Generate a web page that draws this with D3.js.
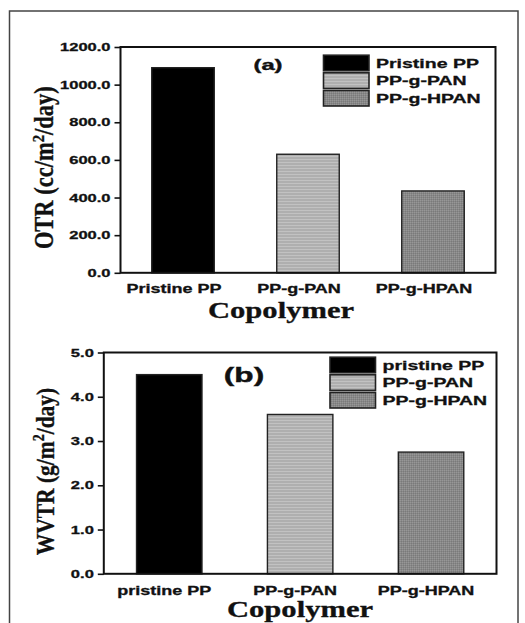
<!DOCTYPE html>
<html>
<head>
<meta charset="utf-8">
<script src="https://cdn.jsdelivr.net/npm/d3@7"></script>
<style>
  html, body { margin: 0; padding: 0; background: #fff; }
  svg { display: block; }
</style>
</head>
<body>
<div id="chart"></div>
<script>
// Oxygen and water-vapour transmission rates of the three films
const categoriesOTR = ["Pristine PP", "PP-g-PAN", "PP-g-HPAN"];
const otrValues = [1090, 630, 435];
const otrTicks = [0, 200, 400, 600, 800, 1000, 1200];

const categoriesWVTR = ["pristine PP", "PP-g-PAN", "PP-g-HPAN"];
const wvtrValues = [4.5, 3.6, 2.75];
const wvtrTicks = [0, 1, 2, 3, 4, 5];

const legendOTR = ["Pristine PP", "PP-g-PAN", "PP-g-HPAN"];
const legendWVTR = ["pristine PP", "PP-g-PAN", "PP-g-HPAN"];

const W = 525, H = 623;
const SANS = "'Liberation Sans', Arial, sans-serif";
const SERIF = "'Liberation Serif', 'Times New Roman', serif";
const SX = 1.5; // horizontal widening of the bold sans labels

const svg = d3.select("#chart").append("svg")
  .attr("width", W).attr("height", H);

svg.append("rect").attr("width", W).attr("height", H).attr("fill", "#fff");

// fills: solid black, light striped grey, darker textured grey
const defs = svg.append("defs");
const pLight = defs.append("pattern").attr("id", "fillPAN")
  .attr("patternUnits", "userSpaceOnUse").attr("width", 4).attr("height", 3);
pLight.append("rect").attr("width", 4).attr("height", 3).attr("fill", "#afafaf");
pLight.append("rect").attr("y", 0).attr("width", 4).attr("height", 1).attr("fill", "#c2c2c2");

const pDark = defs.append("pattern").attr("id", "fillHPAN")
  .attr("patternUnits", "userSpaceOnUse").attr("width", 2).attr("height", 2);
pDark.append("rect").attr("width", 2).attr("height", 2).attr("fill", "#888");
pDark.append("rect").attr("width", 1).attr("height", 1).attr("fill", "#979797");
pDark.append("rect").attr("x", 1).attr("y", 1).attr("width", 1).attr("height", 1).attr("fill", "#7a7a7a");

const fills = ["#000", "url(#fillPAN)", "url(#fillHPAN)"];

// outer figure frame
svg.append("rect")
  .attr("x", 9.5).attr("y", 11).attr("width", 508.5).attr("height", 700)
  .attr("fill", "none").attr("stroke", "#444").attr("stroke-width", 1.5);

// widen text horizontally around its own anchor point
function widen(sel, sx, dx = 0) {
  sel.each(function () {
    const t = d3.select(this);
    const x = (+t.attr("x") || 0) + dx, y = +t.attr("y") || 0;
    t.attr("x", 0).attr("y", 0)
      .attr("transform", `translate(${x},${y}) scale(${sx},1)`);
  });
}

// heavier strokes for the bold labels
function heavy(sel, w = 0.35) {
  sel.attr("stroke", "#111").attr("stroke-width", w).attr("paint-order", "stroke");
}

function drawPanel(cfg) {
  const { cats, vals, ticks, legend, tag, box } = cfg;
  const g = svg.append("g");

  const x = d3.scaleBand().domain(cats).range([box.left, box.right])
    .paddingInner(0.5).paddingOuter(0.25);
  const y = d3.scaleLinear().domain([ticks[0], ticks[ticks.length - 1]])
    .range([box.bottom, box.top]);

  // bars
  g.selectAll("rect.bar").data(vals).join("rect")
    .attr("class", "bar")
    .attr("x", (d, i) => x(cats[i]))
    .attr("y", d => y(d))
    .attr("width", x.bandwidth())
    .attr("height", d => y(0) - y(d))
    .attr("fill", (d, i) => fills[i])
    .attr("stroke", "#222").attr("stroke-width", 1.4);

  // left axis
  const ya = g.append("g").attr("transform", `translate(${box.left},0)`)
    .call(d3.axisLeft(y).tickValues(ticks).tickFormat(d3.format(".1f"))
      .tickSize(6).tickPadding(4));
  ya.select(".domain").remove();
  ya.selectAll("line").attr("stroke", "#111").attr("stroke-width", 1.6);
  ya.selectAll("text").attr("font-family", SANS).attr("font-weight", "bold")
    .attr("font-size", 11).attr("fill", "#111");
  heavy(ya.selectAll("text"), 0.3);
  widen(ya.selectAll("text"), SX);

  // bottom axis (category names)
  const xa = g.append("g").attr("transform", `translate(0,${box.bottom})`)
    .call(d3.axisBottom(x).tickSize(0).tickPadding(cfg.xPad));
  xa.select(".domain").remove();
  xa.selectAll("text").attr("font-family", SANS).attr("font-weight", "bold")
    .attr("font-size", 12).attr("fill", "#111");
  heavy(xa.selectAll("text"), 0.3);
  widen(xa.selectAll("text"), SX, cfg.xShift);

  // plot frame
  g.append("rect")
    .attr("x", box.left).attr("y", box.top)
    .attr("width", box.right - box.left).attr("height", box.bottom - box.top)
    .attr("fill", "none").attr("stroke", "#111").attr("stroke-width", 2);

  // panel tag
  const tg = g.append("text").attr("x", cfg.tagPos[0]).attr("y", cfg.tagPos[1])
    .attr("text-anchor", "middle").attr("font-family", SANS)
    .attr("font-weight", "bold").attr("font-size", cfg.tagSize)
    .attr("fill", "#111").text(tag);
  heavy(tg, 0.4);
  widen(tg, 1.58);

  // legend
  const lg = g.append("g");
  legend.forEach((name, i) => {
    const cy = cfg.legend0[1] + i * 17.6;
    lg.append("rect")
      .attr("x", cfg.legend0[0]).attr("y", cy - 7.8)
      .attr("width", 45.5).attr("height", 15.6)
      .attr("fill", fills[i]).attr("stroke", "#222").attr("stroke-width", 1.6);
    const lt = lg.append("text")
      .attr("x", cfg.legend0[0] + 52.5).attr("y", cy + 4.8)
      .attr("font-family", SANS).attr("font-weight", "bold")
      .attr("font-size", 13).attr("fill", "#111").text(name);
    heavy(lt, 0.3);
    widen(lt, SX);
  });

  // axis titles
  const yt = g.append("text")
    .attr("transform", `translate(${cfg.yTitle[0]},${cfg.yTitle[1]}) rotate(-90) scale(1,1.18)`)
    .attr("text-anchor", "middle").attr("font-family", SERIF)
    .attr("font-weight", "bold").attr("font-size", cfg.yTitleSize).attr("fill", "#111");
  yt.append("tspan").text(cfg.yLabel[0]);
  yt.append("tspan").attr("dy", -8).attr("font-size", cfg.yTitleSize * 0.65).text("2");
  yt.append("tspan").attr("dy", 8).text(cfg.yLabel[1]);
  heavy(yt, 0.3);

  const xt = g.append("text").attr("x", cfg.xTitle[0]).attr("y", cfg.xTitle[1])
    .attr("text-anchor", "middle").attr("font-family", SERIF)
    .attr("font-weight", "bold").attr("font-size", 22.5).attr("fill", "#111")
    .text("Copolymer");
  heavy(xt, 0.3);
  widen(xt, 1.36);
}

drawPanel({
  cats: categoriesOTR, vals: otrValues, ticks: otrTicks, legend: legendOTR,
  tag: "(a)", tagPos: [268, 70], tagSize: 15,
  box: { left: 120.5, right: 495.5, top: 47, bottom: 272.8 },
  xPad: 11.7, xShift: -9,
  legend0: [323.5, 63],
  yLabel: ["OTR (cc/m", "/day)"], yTitle: [53, 167.7], yTitleSize: 22.5,
  xTitle: [281, 318]
});

drawPanel({
  cats: categoriesWVTR, vals: wvtrValues, ticks: wvtrTicks, legend: legendWVTR,
  tag: "(b)", tagPos: [244, 382], tagSize: 20,
  box: { left: 103.8, right: 496.5, top: 352.5, bottom: 573.8 },
  xPad: 12.7, xShift: -5,
  legend0: [330, 365],
  yLabel: ["WVTR (g/m", "/day)"], yTitle: [53.5, 471.5], yTitleSize: 21.5,
  xTitle: [300, 617]
});
</script>
</body>
</html>
